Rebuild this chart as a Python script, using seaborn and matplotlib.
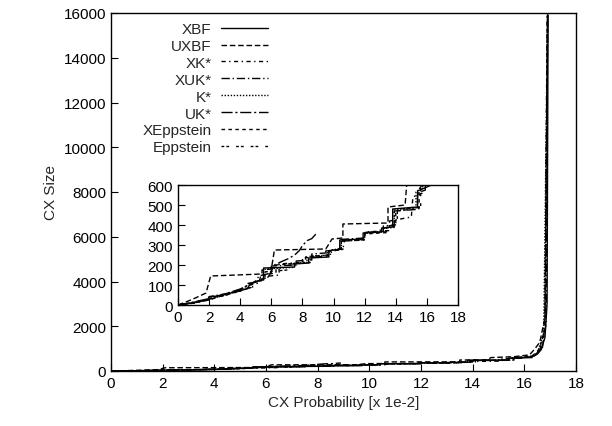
import matplotlib
matplotlib.use("Agg")
import matplotlib.pyplot as plt
import seaborn as sns
import pandas as pd

# ---- data (x in units of 1e-2, y = CX size) ----
methods = ["XBF", "UXBF", "XK*", "XUK*", "K*", "UK*", "XEppstein", "Eppstein"]

xbf_x = [0, 0.5, 1.0, 1.5, 1.9, 2.0, 2.5, 3.0, 3.5, 4.0, 4.5, 4.6, 5.0, 5.5, 5.5, 7.5, 7.5, 8.4, 8.4, 9.7, 9.7,
         10.4, 10.4, 11.9, 11.9, 13.1, 13.1, 13.8, 13.8, 15.4, 15.4, 16.3, 16.3, 16.5, 16.65, 16.8, 16.88, 16.92]
xbf_y = [0, 6, 12, 20, 28, 40, 45, 52, 62, 72, 82, 105, 115, 130, 185, 190, 205, 210, 235, 240, 272,
         278, 325, 330, 360, 365, 385, 390, 480, 490, 570, 600, 640, 750, 950, 1500, 3000, 15900]

uxbf_x = [0, 0.6, 1.2, 1.8, 2.1, 5.4, 5.4, 6.0, 6.2, 9.5, 9.9, 10.6, 10.6, 13.5, 13.5, 14.6, 14.7, 15.6, 16.2,
          16.4, 16.6, 16.8, 16.9]
uxbf_y = [0, 18, 38, 60, 145, 155, 175, 180, 275, 280, 330, 335, 405, 410, 490, 500, 600, 640, 720,
          980, 1290, 2400, 15950]

xk_x = [0, 1, 2, 2.2, 3, 4, 4.4, 5.2, 5.3, 6.5, 6.5, 8.2, 8.2, 9.4, 9.5, 10.6, 10.7, 12.0, 12.0, 13.6, 13.6,
        15.0, 15.1, 15.7, 15.7, 16.3, 16.6, 16.8, 16.88]
xk_y = [0, 10, 25, 38, 48, 70, 95, 110, 140, 150, 205, 215, 240, 248, 270, 280, 320, 325, 365, 372, 420,
        440, 540, 560, 600, 650, 900, 1800, 15850]

xuk_x = [0, 1, 2, 2.0, 3, 4, 4.5, 5.0, 5.2, 6.0, 6.0, 7.6, 7.6, 8.6, 8.6, 9.8, 10.5, 10.5, 12.0, 12.0, 13.2,
         13.2, 13.9, 13.9, 15.4, 15.4, 15.9, 15.9, 16.4, 16.7, 16.85, 16.9]
xuk_y = [0, 12, 30, 42, 55, 75, 100, 120, 145, 160, 195, 200, 220, 225, 255, 262, 285, 328, 335, 362, 368,
         395, 400, 470, 478, 560, 575, 605, 680, 1050, 2200, 15900]

k_x = [0, 1, 2, 3, 4, 4.8, 4.8, 5.6, 5.6, 7.4, 7.4, 8.5, 8.5, 9.8, 9.8, 10.5, 10.5, 12.0, 12.0, 13.0, 13.0,
       13.9, 13.9, 15.3, 15.3, 16.2, 16.5, 16.75, 16.9]
k_y = [0, 9, 28, 50, 74, 90, 112, 128, 180, 188, 208, 214, 245, 250, 275, 282, 322, 328, 358, 364, 382,
       388, 475, 485, 565, 620, 800, 1700, 15900]

uk_x = [0, 1, 2, 3, 4, 4.8, 5.3, 5.8, 6.2, 6.6, 7.1, 7.5, 7.8, 8.0, 8.3, 8.6, 8.9]
uk_y = [0, 15, 32, 55, 80, 110, 125, 140, 200, 215, 232, 250, 272, 297, 322, 332, 358]

xepp_x = [0, 1, 2, 3, 4, 4.5, 4.5, 5.4, 5.4, 6.3, 6.3, 8.0, 8.0, 9.6, 9.6, 10.4, 10.4, 12.0, 12.0, 13.4,
          13.4, 14.0, 14.0, 15.5, 15.5, 16.3, 16.6, 16.8, 16.9]
xepp_y = [0, 11, 26, 50, 72, 85, 108, 122, 150, 160, 200, 210, 235, 245, 268, 276, 318, 326, 355, 362,
          388, 395, 470, 482, 580, 660, 1000, 2000, 15900]

epp_x = [0, 1, 2, 3, 4, 4.7, 4.7, 5.5, 5.5, 7.0, 7.0, 8.6, 8.6, 9.7, 9.7, 10.6, 10.6, 11.9, 11.9, 13.5,
         13.5, 14.1, 14.1, 15.6, 15.6, 16.3, 16.6, 16.8, 16.9]
epp_y = [0, 10, 27, 48, 70, 88, 110, 125, 165, 175, 205, 212, 242, 250, 270, 278, 322, 330, 362, 368,
         395, 402, 478, 490, 590, 650, 950, 1900, 15900]

series_x = [xbf_x, uxbf_x, xk_x, xuk_x, k_x, uk_x, xepp_x, epp_x]
series_y = [xbf_y, uxbf_y, xk_y, xuk_y, k_y, uk_y, xepp_y, epp_y]

rows = []
for m, xs, ys in zip(methods, series_x, series_y):
    for i, (xv, yv) in enumerate(zip(xs, ys)):
        rows.append({"method": m, "order": i, "x": xv, "y": yv})
df = pd.DataFrame(rows)

dash_map = {
    "XBF": "",
    "UXBF": (4, 2),
    "XK*": (3, 2.5, 1, 2.5),
    "XUK*": (6, 2, 1, 2),
    "K*": (1, 1.2),
    "UK*": (8, 2, 1.5, 2),
    "XEppstein": (2.5, 2.5),
    "Eppstein": (2, 1.5, 2, 5),
}

# ---- style ----
sns.set_style("ticks")
plt.rcParams["font.family"] = ["Liberation Sans", "DejaVu Sans"]
plt.rcParams["font.size"] = 11
plt.rcParams["axes.linewidth"] = 1.0
plt.rcParams["xtick.direction"] = "in"
plt.rcParams["ytick.direction"] = "in"
plt.rcParams["xtick.major.size"] = 5
plt.rcParams["ytick.major.size"] = 5
plt.rcParams["axes.edgecolor"] = "black"

W, H = 612, 427
fig = plt.figure(figsize=(W / 100, H / 100), dpi=100)

ax = fig.add_axes([111 / W, 1 - 372 / H, (576 - 111) / W, (372 - 14) / H])
sns.lineplot(data=df, x="x", y="y", style="method", style_order=methods, dashes=dash_map,
             color="black", linewidth=1.0, sort=False, estimator=None, units="method",
             ax=ax, legend=True)
ax.set_xlim(0, 18)
ax.set_ylim(0, 16000)
ax.set_xticks(range(0, 19, 2))
ax.set_yticks(range(0, 16001, 2000))
ax.set_xlabel("CX Probability [x 1e-2]", fontsize=11)
ax.set_ylabel("CX Size", fontsize=11)
for s in ax.spines.values():
    s.set_visible(True)
ax.tick_params(labelsize=11, colors="black", top=False, right=False)

handles, labels = ax.get_legend_handles_labels()
ax.get_legend().remove()
leg = ax.legend(handles, labels, loc="upper right", bbox_to_anchor=(268 / W, 1 - 23 / H),
                bbox_transform=fig.transFigure, frameon=False, markerfirst=False,
                handlelength=3.05, handletextpad=0.65, labelspacing=0.19, fontsize=11,
                borderaxespad=0, borderpad=0)

# ---- inset ----
ins = fig.add_axes([178 / W, 1 - 306 / H, (458 - 178) / W, (306 - 186) / H])
sns.lineplot(data=df, x="x", y="y", style="method", style_order=methods, dashes=dash_map,
             color="black", linewidth=1.0, sort=False, estimator=None, units="method",
             ax=ins, legend=False)
ins.set_xlim(0, 18)
ins.set_ylim(0, 600)
ins.set_xticks(range(0, 19, 2))
ins.set_yticks(range(0, 601, 100))
ins.set_xlabel("")
ins.set_ylabel("")
ins.tick_params(labelsize=11, colors="black", top=False, right=False)
for s in ins.spines.values():
    s.set_visible(True)

fig.savefig("out.png", dpi=100)
